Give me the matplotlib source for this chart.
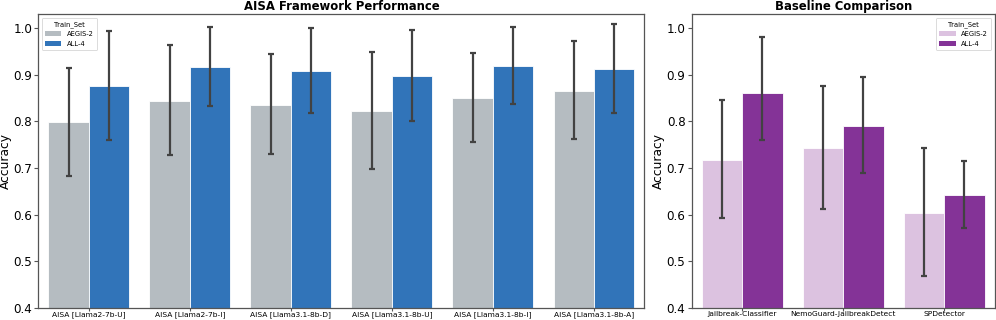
import numpy as np
import matplotlib
matplotlib.use("Agg")
import matplotlib.pyplot as plt
from matplotlib.patches import Patch

plt.rcParams['font.family'] = ['DejaVu Sans']

# ---------------- data ----------------
aisa_models = ["AISA [Llama2-7b-U]", "AISA [Llama2-7b-I]", "AISA [Llama3.1-8b-D]",
               "AISA [Llama3.1-8b-U]", "AISA [Llama3.1-8b-I]", "AISA [Llama3.1-8b-A]"]
aisa_aegis = [0.798, 0.844, 0.836, 0.822, 0.850, 0.866]
aisa_aegis_lo = [0.683, 0.728, 0.730, 0.697, 0.755, 0.762]
aisa_aegis_hi = [0.915, 0.963, 0.945, 0.950, 0.946, 0.972]
aisa_all4 = [0.875, 0.916, 0.909, 0.897, 0.918, 0.913]
aisa_all4_lo = [0.759, 0.832, 0.818, 0.800, 0.837, 0.817]
aisa_all4_hi = [0.994, 1.003, 1.001, 0.997, 1.002, 1.010]

base_models = ["Jailbreak-Classifier", "NemoGuard-JailbreakDetect", "SPDetector"]
base_aegis = [0.717, 0.743, 0.604]
base_aegis_lo = [0.593, 0.611, 0.468]
base_aegis_hi = [0.845, 0.877, 0.743]
base_all4 = [0.860, 0.791, 0.643]
base_all4_lo = [0.761, 0.689, 0.572]
base_all4_hi = [0.982, 0.895, 0.716]

hue_labels = ["AEGIS-2", "ALL-4"]
y_ticks = [0.4, 0.5, 0.6, 0.7, 0.8, 0.9, 1.0]

# ---------------- figure ----------------
fig = plt.figure(figsize=(9.96, 3.2), dpi=100)
ax1 = fig.add_axes([0.0385, 0.0384, 0.6085, 0.9170])
ax2 = fig.add_axes([0.6945, 0.0384, 0.3042, 0.9170])

err_color = "#424242"
spine_color = "#555555"


def draw(ax, cats, v1, lo1, hi1, v2, lo2, hi2, colors, title, legend_loc):
    x = np.arange(len(cats))
    w = 0.4
    for off, vals, lo, hi, c in [(-w / 2, v1, lo1, hi1, colors[0]),
                                 (w / 2, v2, lo2, hi2, colors[1])]:
        vals = np.asarray(vals)
        ax.bar(x + off, vals, width=w, color=c, edgecolor="white", linewidth=0.6,
               bottom=0, zorder=2)
        yerr = np.vstack([vals - np.asarray(lo), np.asarray(hi) - vals])
        ax.errorbar(x + off, vals, yerr=yerr, fmt="none", ecolor=err_color,
                    elinewidth=1.6, capsize=2, capthick=1.6, zorder=3)
    ax.set_xlim(-0.5, len(cats) - 0.5)
    ax.set_ylim(0.4, 1.03)
    ax.set_yticks(y_ticks)
    ax.set_yticklabels([f"{t:.1f}" for t in y_ticks], fontsize=8.6)
    ax.set_xticks(x)
    ax.set_xticklabels(cats, fontsize=5.4)
    ax.tick_params(axis="y", length=3, width=0.8, color=spine_color, pad=1.5)
    ax.tick_params(axis="x", length=2, width=0.8, color=spine_color, pad=0.6)
    ax.set_ylabel("Accuracy", fontsize=8.8, labelpad=1)
    ax.set_title(title, fontsize=8.4, fontweight="bold", pad=3)
    for s in ax.spines.values():
        s.set_color(spine_color)
        s.set_linewidth(0.9)
    handles = [Patch(facecolor=colors[0], label=hue_labels[0]),
               Patch(facecolor=colors[1], label=hue_labels[1])]
    leg = ax.legend(handles=handles, title="Train_Set", loc=legend_loc,
                    fontsize=4.9, title_fontsize=4.9, frameon=True,
                    handlelength=2.4, handleheight=0.8, borderpad=0.5,
                    labelspacing=0.5)
    leg.get_frame().set_edgecolor("#cccccc")
    leg.get_frame().set_linewidth(0.6)


draw(ax1, aisa_models, aisa_aegis, aisa_aegis_lo, aisa_aegis_hi,
     aisa_all4, aisa_all4_lo, aisa_all4_hi, ["#b5bcc1", "#3174b9"],
     "AISA Framework Performance", "upper left")
draw(ax2, base_models, base_aegis, base_aegis_lo, base_aegis_hi,
     base_all4, base_all4_lo, base_all4_hi, ["#dcc2e0", "#843397"],
     "Baseline Comparison", "upper right")

fig.savefig("out.png", dpi=100)
